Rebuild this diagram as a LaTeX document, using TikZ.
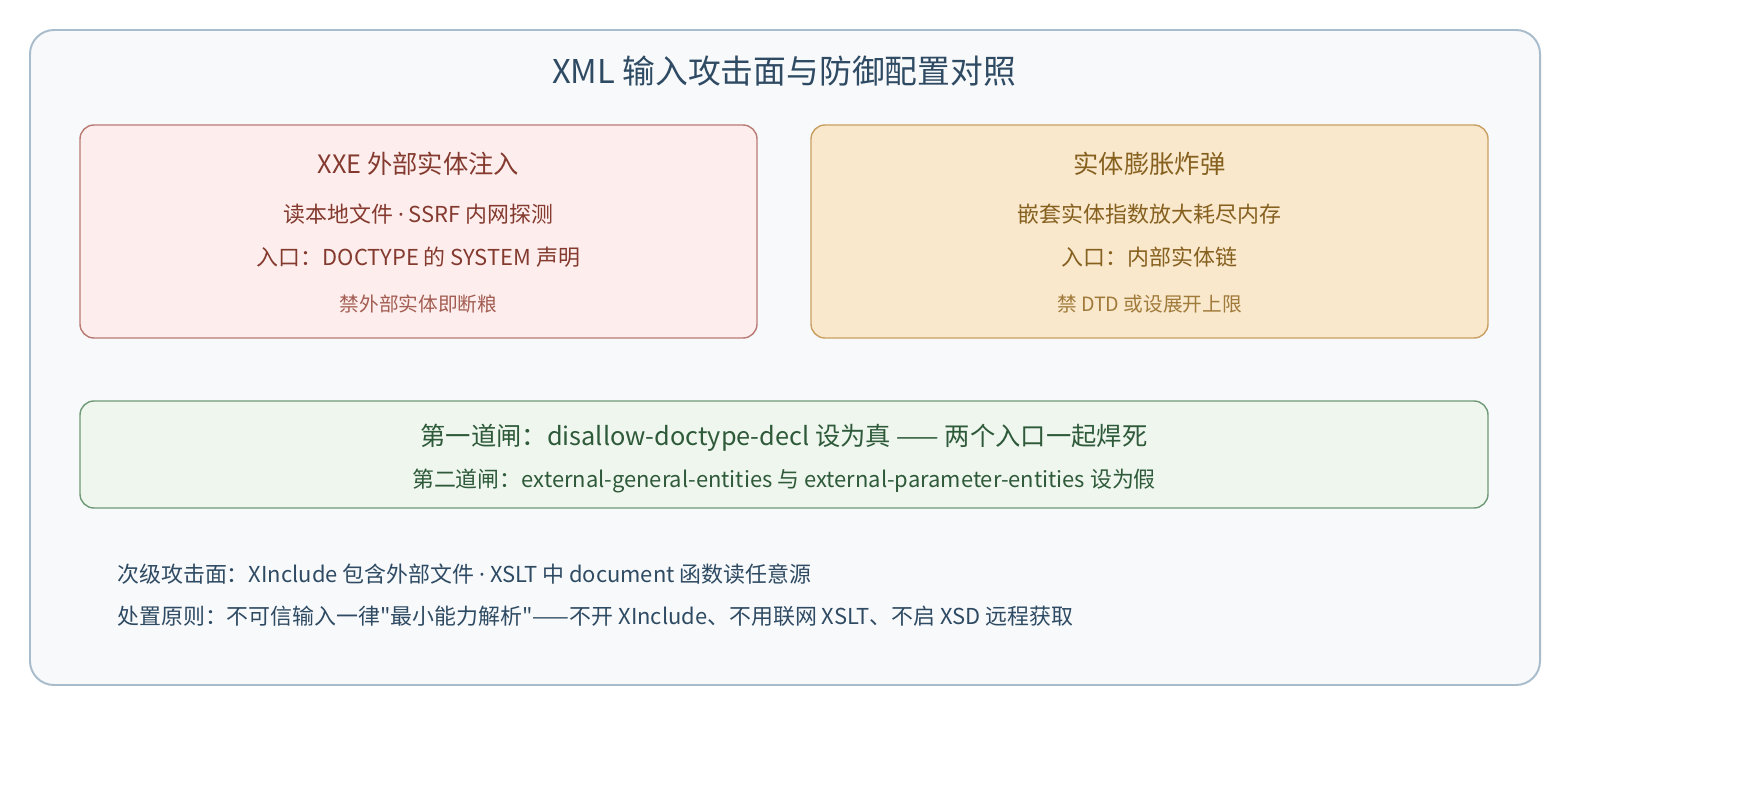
\documentclass[tikz,border=0pt]{standalone}
\usepackage{fontspec}
\setmainfont{Noto Sans CJK SC}[Ligatures=TeXOff]
\newfontfamily\latinfont{Noto Sans}
\usepackage{tikz}
\definecolor{frameline}{HTML}{A9BCCC}
\definecolor{framefill}{HTML}{F8F9FB}
\definecolor{inkblue}{HTML}{2F4B63}
\definecolor{xxefill}{HTML}{FDEEED}
\definecolor{xxeline}{HTML}{B97A74}
\definecolor{xxeink}{HTML}{843A2F}
\definecolor{xxesoft}{HTML}{A35D52}
\definecolor{bombfill}{HTML}{F9E8CC}
\definecolor{bombline}{HTML}{C9A062}
\definecolor{bombink}{HTML}{86601F}
\definecolor{bombsoft}{HTML}{A07A3A}
\definecolor{gatefill}{HTML}{EEF6EE}
\definecolor{gateline}{HTML}{6E9A76}
\definecolor{gateink}{HTML}{2F5A3A}
\newcommand{\middot}{{\latinfont ·}}
\tikzset{
  panel/.style={rounded corners=0.35cm,line width=1pt},
  head/.style={font=\fontsize{18}{21}\selectfont,inner sep=0pt},
  body/.style={font=\fontsize{15.6}{19}\selectfont,inner sep=0pt},
  note/.style={font=\fontsize{14}{17}\selectfont,inner sep=0pt}
}
\begin{document}
\begin{tikzpicture}[x=0.025cm,y=-0.025cm]
      \useasboundingbox (0,0) rectangle (1760,800);
      \draw[frameline,fill=framefill,line width=1.4pt,rounded corners=0.6cm] (30,30) rectangle (1540,685);
      \node[inkblue,font=\fontsize{23.3}{27}\selectfont,inner sep=0pt] (title) at (784,71) {XML 输入攻击面与防御配置对照};
      \draw[panel,xxeline,fill=xxefill] (80,125) rectangle (757,338);
      \node[head,xxeink] (xxe) at (418.5,164) {XXE 外部实体注入};
      \node[body,xxeink] (xxeharm) at (418.5,214) {读本地文件 \middot{} SSRF 内网探测};
      \node[body,xxeink] (xxeentry) at (418.5,257) {入口：DOCTYPE 的 SYSTEM 声明};
      \node[note,xxesoft] (xxefix) at (418.5,304) {禁外部实体即断粮};
      \draw[panel,bombline,fill=bombfill] (811,125) rectangle (1488,338);
      \node[head,bombink] (bomb) at (1149.5,164) {实体膨胀炸弹};
      \node[body,bombink] (bombharm) at (1149.5,214) {嵌套实体指数放大耗尽内存};
      \node[body,bombink] (bombentry) at (1149.5,257) {入口：内部实体链};
      \node[note,bombsoft] (bombfix) at (1149.5,304) {禁 DTD 或设展开上限};
      \draw[panel,gateline,fill=gatefill] (80,401) rectangle (1488,508);
      \node[head,gateink] (gate1) at (784,438) {第一道闸：disallow-doctype-decl 设为真 —— 两个入口一起焊死};
      \node[body,gateink] (gate2) at (784,481) {第二道闸：external-general-entities 与 external-parameter-entities 设为假};
      \node[body,inkblue,anchor=west] (minor) at (117,574) {次级攻击面：XInclude 包含外部文件 \middot{} XSLT 中 document 函数读任意源};
      \node[body,inkblue,anchor=west] (rule) at (117,616) {处置原则：不可信输入一律"最小能力解析"——不开 XInclude、不用联网 XSLT、不启 XSD 远程获取};
    \end{tikzpicture}
\end{document}
